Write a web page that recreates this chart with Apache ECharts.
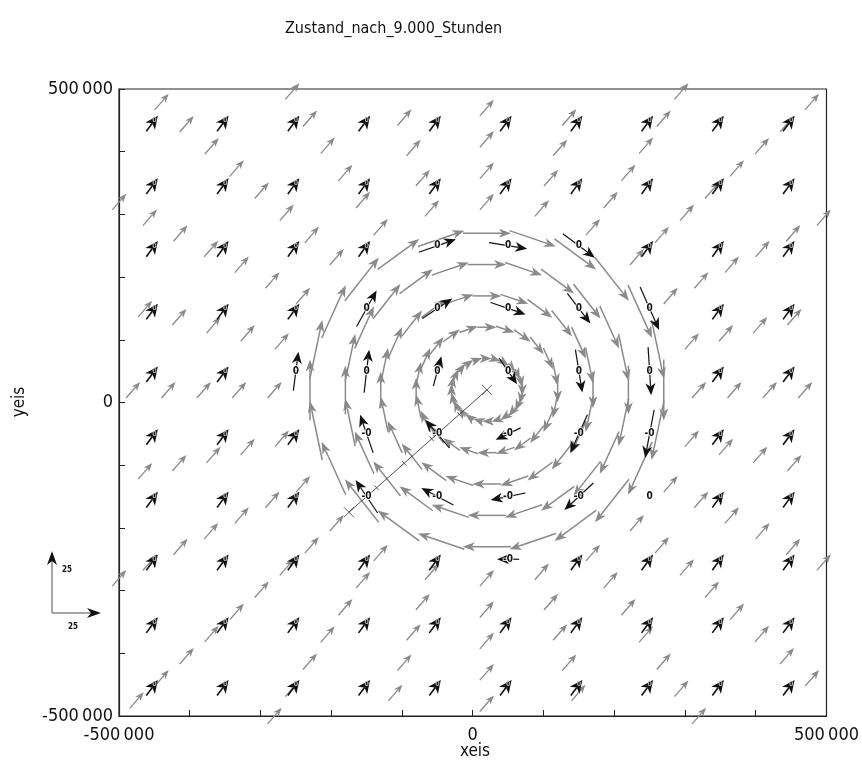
<!DOCTYPE html>
<html><head><meta charset="utf-8">
<script src="https://cdn.jsdelivr.net/npm/echarts@6/dist/echarts.min.js"></script>
<style>html,body{margin:0;padding:0;background:#fff}#c{width:862px;height:771px}</style>
</head><body><div id="c"></div>
<script>
// ---------- data ----------
const gridX = [-450000,-350000,-250000,-150000,-50000,50000,150000,250000,350000,450000];
const gridY = [450000,350000,250000,150000,50000,-50000,-150000,-250000,-350000,-450000];
const blackAmbientU = 6.0, blackAmbientV = 6.4;
const grayAmbientU = 7.3, grayAmbientV = 6.6;
const vortexCenterX = 20000, vortexCenterY = 20000;
const ringRadii  = [50000,100000,150000,200000,250000];
const ringSpeeds = [5,10,15,20,25];
const outerRadii = [300000,350000,400000,450000,500000,550000,600000,650000,700000,750000];
const rayAngles  = [0,15,30,45,60,75,90,105,120,135,150,165,180,195,210,225,240,255,270,285,300,315,330,345];
const blackVortexX = [-50000,50000,150000, -150000,-50000,50000,150000,250000, -250000,-150000,-50000,50000,150000,250000, -150000,-50000,50000,150000,250000, -150000,-50000,50000,150000,250000, 50000];
const blackVortexY = [250000,250000,250000, 150000,150000,150000,150000,150000, 50000,50000,50000,50000,50000,50000, -50000,-50000,-50000,-50000,-50000, -150000,-150000,-150000,-150000,-150000, -250000];
const blackVortexU = [19.3,19.8,16.7, 10.4,15.6,18.2,12.0,9.9, 2.6,2.6,4.2,9.4,3.6,1.6, -6.8,-12.5,-13.0,-8.9,-4.7, -11.5,-16.7,-18.2,-15.1,0, -11.5];
const blackVortexV = [5.3,-2.5,-9.8, 14.8,8.2,-4.9,-12.3,-17.6, 16.0,17.6,12.3,-10.7,-17.6,-19.7, 15.6,11.5,-4.9,-15.6,-19.7, 13.5,7.0,-2.9,-11.1,0, 0];
const blackVortexLabel = ['0','0','0', '0','0','0','0','0', '0','0','0','0','0','0', '-0','-0','-0','-0','-0', '-0','-0','-0','-0','0', '-0'];
const trackX = [-175000, 20000];
const trackY = [-175000, 20000];
const tickLabels = {'-500000':'-500\u2009000','0':'0','500000':'500\u2009000'};

// ---------- build ----------
const blackData = [], blackLabels = [], blackIsVortex = [];
gridY.forEach(y => gridX.forEach(x => {
  let k = -1;
  for (let i = 0; i < blackVortexX.length; i++) if (blackVortexX[i] === x && blackVortexY[i] === y) k = i;
  if (k >= 0) { blackData.push([x, y, blackVortexU[k], blackVortexV[k]]); blackLabels.push(blackVortexLabel[k]); blackIsVortex.push(true); }
  else { blackData.push([x, y, blackAmbientU, blackAmbientV]); blackLabels.push('0'); blackIsVortex.push(false); }
}));
const grayData = [];
const lim = 502000;
ringRadii.forEach((r, ri) => rayAngles.forEach(a => {
  const t = a * Math.PI / 180;
  const x = vortexCenterX + r * Math.cos(t), y = vortexCenterY + r * Math.sin(t);
  grayData.push([x, y, ringSpeeds[ri] * Math.sin(t), -ringSpeeds[ri] * Math.cos(t), 1]);
}));
outerRadii.forEach(r => rayAngles.forEach(a => {
  const t = a * Math.PI / 180;
  const x = vortexCenterX + r * Math.cos(t), y = vortexCenterY + r * Math.sin(t);
  if (Math.abs(x) <= lim && Math.abs(y) <= lim) grayData.push([x, y, grayAmbientU, grayAmbientV, 0]);
}));

// ---------- drawing ----------
const SX = 1.92, SY = 2.44; // px per velocity unit
const GRAY = '#8a8a8a', BLACK = '#111';
function arrow(cx, cy, dx, dy, hl, hw, color, lw) {
  const L = Math.hypot(dx, dy);
  if (L < 0.5) return [];
  const ux = dx / L, uy = dy / L, px = -uy, py = ux;
  const hx = cx + dx / 2, hy = cy + dy / 2, tx = cx - dx / 2, ty = cy - dy / 2;
  const bx = hx - ux * hl, by = hy - uy * hl;
  const nx = hx - ux * hl * 0.72, ny = hy - uy * hl * 0.72;
  return [
    {type:'line', shape:{x1:tx, y1:ty, x2:nx, y2:ny}, style:{stroke:color, lineWidth:lw}},
    {type:'polygon', shape:{points:[[hx,hy],[bx+px*hw/2,by+py*hw/2],[nx,ny],[bx-px*hw/2,by-py*hw/2]]}, style:{fill:color}}
  ];
}
const FONT = "'Liberation Sans Narrow','DejaVu Sans Condensed','Liberation Sans',sans-serif";

const option = {
  animation: false,
  backgroundColor: '#fff',
  grid: {left:119, right:32, top:89, bottom:55, show:true, borderColor:'#222', borderWidth:1.2},
  xAxis: {type:'value', min:-500000, max:500000, interval:100000,
    axisLine:{onZero:false, lineStyle:{color:'#222', width:1.2}},
    axisTick:{inside:true, length:6, lineStyle:{color:'#222'}},
    splitLine:{show:false},
    axisLabel:{showMinLabel:true, showMaxLabel:true, margin:10, fontSize:18, color:'#111', fontFamily:FONT,
      formatter: v => tickLabels[String(v)] || ''}},
  yAxis: {type:'value', min:-500000, max:500000, interval:100000,
    axisLine:{onZero:false, lineStyle:{color:'#222', width:1.2}},
    axisTick:{inside:true, length:6, lineStyle:{color:'#222'}},
    splitLine:{show:false},
    axisLabel:{showMinLabel:true, showMaxLabel:true, margin:6, fontSize:18, color:'#111', fontFamily:FONT,
      formatter: v => tickLabels[String(v)] || ''}},
  graphic: [
    {type:'text', left:285, top:21, style:{text:'Zustand_nach_9.000_Stunden', font:"16px "+FONT, fill:'#111'}},
    {type:'text', x:475, y:752, style:{text:'xeis', font:"17px "+FONT, fill:'#111', align:'center', verticalAlign:'middle'}},
    {type:'text', x:20, y:402, rotation:Math.PI/2, style:{text:'yeis', font:"17px "+FONT, fill:'#111', align:'center', verticalAlign:'middle'}},
    {type:'line', shape:{x1:52, y1:613, x2:52, y2:558}, style:{stroke:GRAY, lineWidth:1.5}},
    {type:'polygon', shape:{points:[[52,551],[47,565],[52,561],[57,565]]}, style:{fill:BLACK}},
    {type:'line', shape:{x1:52, y1:613, x2:94, y2:613}, style:{stroke:GRAY, lineWidth:1.5}},
    {type:'polygon', shape:{points:[[101,613],[87,608],[91,613],[87,618]]}, style:{fill:BLACK}},
    {type:'text', x:67, y:570, style:{text:'25', font:"bold 8px "+FONT, fill:'#111', align:'center', verticalAlign:'middle'}},
    {type:'text', x:73, y:627, style:{text:'25', font:"bold 8px "+FONT, fill:'#111', align:'center', verticalAlign:'middle'}}
  ],
  series: [
    {type:'custom', z:2, data:grayData, encode:{x:0, y:1},
      renderItem: (params, api) => {
        const p = api.coord([api.value(0), api.value(1)]);
        const ring = api.value(4) === 1;
        const els = arrow(p[0], p[1], api.value(2)*SX, -api.value(3)*SY, ring?12:9, ring?9:7, GRAY, ring?1.5:1.3);
        return {type:'group', children:els};
      }},
    {type:'custom', z:3, data:[[trackX[0],trackY[0],trackX[1],trackY[1]]], encode:{x:[0,2], y:[1,3]},
      renderItem: (params, api) => {
        const a = api.coord([api.value(0), api.value(1)]);
        const b = api.coord([api.value(2), api.value(3)]);
        const dx = b[0]-a[0], dy = b[1]-a[1], L = Math.hypot(dx,dy), px = -dy/L, py = dx/L;
        const ch = [{type:'line', shape:{x1:a[0],y1:a[1],x2:b[0],y2:b[1]}, style:{stroke:'#222', lineWidth:0.8}}];
        [a,b].forEach(q => {
          ch.push({type:'line', shape:{x1:q[0]-5,y1:q[1]-5,x2:q[0]+5,y2:q[1]+5}, style:{stroke:'#333', lineWidth:0.8}});
          ch.push({type:'line', shape:{x1:q[0]-5,y1:q[1]+5,x2:q[0]+5,y2:q[1]-5}, style:{stroke:'#333', lineWidth:0.8}});
        });
        [0.2,0.4,0.6,0.8].forEach(f => {
          const qx = a[0]+dx*f, qy = a[1]+dy*f;
          ch.push({type:'line', shape:{x1:qx-px*3,y1:qy-py*3,x2:qx+px*3,y2:qy+py*3}, style:{stroke:'#333', lineWidth:0.8}});
        });
        return {type:'group', children:ch};
      }},
    {type:'custom', z:4, data:blackData, encode:{x:0, y:1},
      renderItem: (params, api) => {
        const p = api.coord([api.value(0), api.value(1)]);
        const vort = blackIsVortex[params.dataIndex];
        const dx = api.value(2)*SX, dy = -api.value(3)*SY;
        let els;
        if (vort) {
          els = arrow(p[0], p[1], dx, dy, 12, 10, BLACK, 1.2);
          els.push({type:'text', x:p[0], y:p[1], style:{text:blackLabels[params.dataIndex], font:"bold 10px "+FONT,
            fill:BLACK, stroke:'#fff', lineWidth:1.5, align:'center', verticalAlign:'middle'}});
        } else {
          const L = Math.hypot(dx, dy), hl = 13;
          const ox = p[0] - (dx/2 - dx/L*hl*0.45), oy = p[1] - (dy/2 - dy/L*hl*0.45);
          els = arrow(ox, oy, dx, dy, hl, 12, BLACK, 1.6);
          els.push({type:'text', x:p[0], y:p[1], style:{text:blackLabels[params.dataIndex], font:"bold 7px "+FONT,
            fill:'#aaa', align:'center', verticalAlign:'middle'}});
        }
        return {type:'group', children:els};
      }}
  ]
};
const chart = echarts.init(document.getElementById('c'), null, {renderer:'canvas'});
chart.setOption(option);
</script>
</body></html>
